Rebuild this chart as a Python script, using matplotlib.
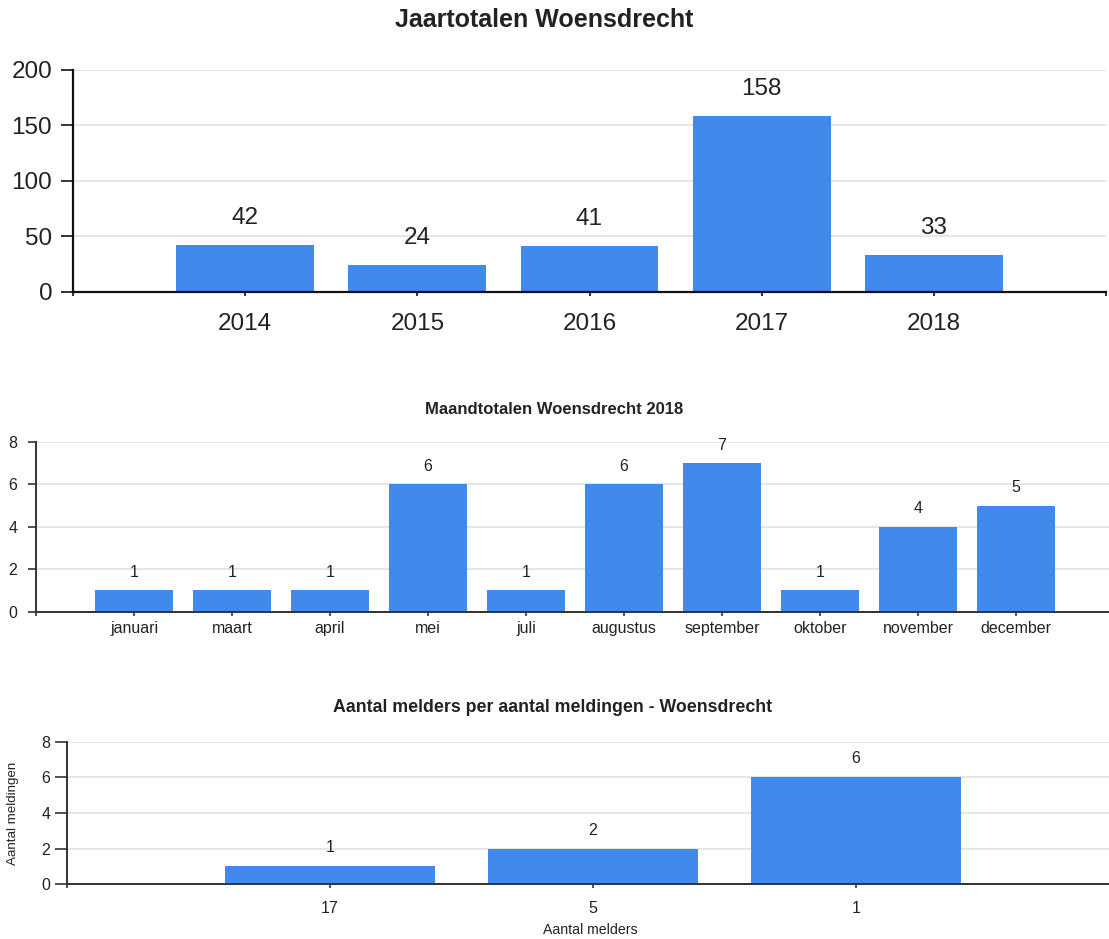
import matplotlib
matplotlib.use("Agg")
import matplotlib.pyplot as plt

plt.rcParams["font.family"] = ["Liberation Sans", "DejaVu Sans"]

# data
jaren = ["2014", "2015", "2016", "2017", "2018"]
jaar_totalen = [42, 24, 41, 158, 33]

maanden = ["januari", "maart", "april", "mei", "juli", "augustus",
           "september", "oktober", "november", "december"]
maand_totalen = [1, 1, 1, 6, 1, 6, 7, 1, 4, 5]

melders = ["17", "5", "1"]
aantal_meldingen = [1, 2, 6]

BAR = "#4289ec"
TXT = "#222222"
GRID = "#e2e2e2"
W, H = 1109, 939

fig = plt.figure(figsize=(W / 100, H / 100), dpi=100)


def axes_px(left, top, right, bottom):
    # pixel box -> figure fraction
    return fig.add_axes([left / W, 1 - bottom / H, (right - left) / W, (bottom - top) / H])


def style(ax, xmax, ymax, yticks, fs, ytick_len, ypad, xpad, spine_c, spine_w, end_ticks):
    ax.set_xlim(0, xmax)
    ax.set_ylim(0, ymax)
    ax.set_yticks(yticks)
    ax.grid(axis="y", color=GRID, lw=1.2)
    ax.set_axisbelow(True)
    for s in ["top", "right"]:
        ax.spines[s].set_visible(False)
    for s in ["left", "bottom"]:
        ax.spines[s].set_color(spine_c)
        ax.spines[s].set_linewidth(spine_w)
    ax.tick_params(axis="y", length=ytick_len, width=1.2, color=spine_c, pad=ypad,
                   labelsize=fs, labelcolor=TXT)
    ax.tick_params(axis="x", length=3, width=1.2, color=spine_c, pad=xpad,
                   labelsize=fs, labelcolor=TXT)
    ax.set_xticks(end_ticks, minor=True)
    ax.tick_params(axis="x", which="minor", length=3, width=1.2, color=spine_c)


def labels(ax, xs, vals, fs, off):
    for x, v in zip(xs, vals):
        ax.annotate(str(v), (x, v), xytext=(0, off), textcoords="offset pixels",
                    ha="center", va="center", fontsize=fs, color=TXT)


# Jaartotalen
ax1 = axes_px(73, 69.5, 1106, 292)
x1 = list(range(1, len(jaren) + 1))
ax1.bar(x1, jaar_totalen, width=0.8, color=BAR)
ax1.set_xticks(x1)
ax1.set_xticklabels(jaren)
style(ax1, 6, 200, [0, 50, 100, 150, 200], 17.5, 9, 6, 12, "#111111", 1.6, [0, 6])
labels(ax1, x1, jaar_totalen, 17.5, 27)
fig.text(544, H - 20, "Jaartotalen Woensdrecht", transform=None, ha="center", va="center",
         fontsize=18, fontweight="bold", color=TXT)

# Maandtotalen
ax2 = axes_px(36, 442, 1109, 611.5)
x2 = list(range(1, len(maanden) + 1))
ax2.bar(x2, maand_totalen, width=0.8, color=BAR)
ax2.set_xticks(x2)
ax2.set_xticklabels(maanden)
style(ax2, (1109 - 36) / 98, 8, [0, 2, 4, 6, 8], 11.5, 5.5, 8, 4, "#333333", 1.4, [0])
labels(ax2, x2, maand_totalen, 11.5, 18)
fig.text(554, H - 409, "Maandtotalen Woensdrecht 2018", transform=None, ha="center",
         va="center", fontsize=12, fontweight="bold", color=TXT)

# Aantal melders per aantal meldingen
ax3 = axes_px(67, 741.7, 1109, 884.3)
x3 = list(range(1, len(melders) + 1))
ax3.bar(x3, aantal_meldingen, width=0.8, color=BAR)
ax3.set_xticks(x3)
ax3.set_xticklabels(melders)
style(ax3, (1109 - 67) / 263, 8, [0, 2, 4, 6, 8], 11.5, 9, 3, 9, "#333333", 1.4, [0])
labels(ax3, x3, aantal_meldingen, 11.5, 18.5)
fig.text(553, H - 707, "Aantal melders per aantal meldingen - Woensdrecht", transform=None,
         ha="center", va="center", fontsize=12.8, fontweight="bold", color=TXT)
fig.text(13, H - 813, "Aantal meldingen", transform=None, ha="center", va="center",
         rotation=90, fontsize=9.6, color=TXT)
fig.text(590, H - 930, "Aantal melders", transform=None, ha="center", va="center",
         fontsize=10.2, color=TXT)

fig.savefig("out.png", dpi=100)
